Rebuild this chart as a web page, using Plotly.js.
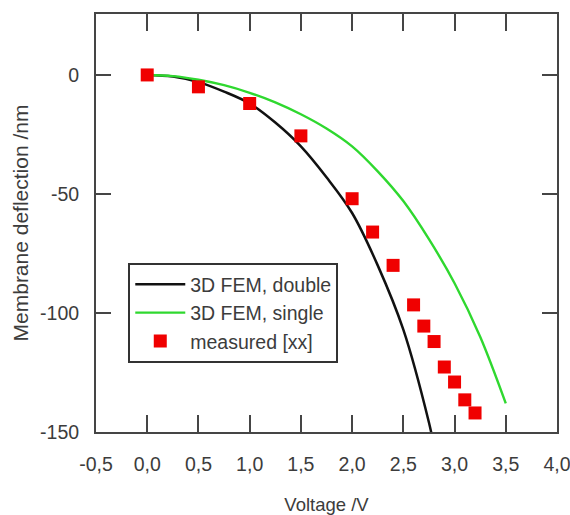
<!DOCTYPE html>
<html>
<head>
<meta charset="utf-8">
<script src="https://cdn.plot.ly/plotly-3.0.1.min.js"></script>
<style>html,body{margin:0;padding:0;background:#fff;}#chart{width:570px;height:515px;}</style>
</head>
<body>
<div id="chart"></div>
<script>
// Series
const doubleV = [0, 0.25, 0.5, 0.75, 1.0, 1.25, 1.5, 1.75, 2.0, 2.25, 2.5, 2.75, 2.8];
const doubleD = [0, -0.7, -3, -7, -12, -20, -30, -43, -58, -80, -107, -146, -156];

const singleV = [0, 0.25, 0.5, 0.75, 1.0, 1.25, 1.5, 1.75, 2.0, 2.25, 2.5, 2.75, 3.0, 3.25, 3.5];
const singleD = [0, -0.5, -2, -4.3, -7.5, -11.5, -16.5, -22.5, -30, -40.5, -53, -69, -87.5, -110, -138];

const measV = [0, 0.5, 1.0, 1.5, 2.0, 2.2, 2.4, 2.6, 2.7, 2.8, 2.9, 3.0, 3.1, 3.2];
const measD = [0, -5, -12, -25.6, -52, -66, -80, -96.6, -105.5, -112, -122.7, -129, -136.5, -142];

const xTickVals = [-0.5, 0, 0.5, 1.0, 1.5, 2.0, 2.5, 3.0, 3.5, 4.0];
const xTickText = ['-0,5', '0,0', '0,5', '1,0', '1,5', '2,0', '2,5', '3,0', '3,5', '4,0'];
const yTickVals = [0, -50, -100, -150];
const yTickText = ['0', '-50', '-100', '-150'];

const FONT = 'Liberation Sans, Arial, sans-serif';
const TXT = '#3c3c3c';

const traces = [
  {x: doubleV, y: doubleD, mode: 'lines', name: '3D FEM, double', legendgroup: 'a',
   line: {color: '#111111', width: 2.5, shape: 'spline'}},
  {x: singleV, y: singleD, mode: 'lines', name: '3D FEM, single', legendgroup: 'b',
   line: {color: '#2fd82f', width: 2.4, shape: 'spline'}},
  {x: measV, y: measD, mode: 'markers', name: 'measured [xx]', legendgroup: 'c',
   marker: {symbol: 'square', size: 13, color: '#f00000'}}
];

const axisCommon = {
  showline: true, linecolor: '#454545', linewidth: 2, mirror: 'ticks',
  ticks: 'inside', tickcolor: '#454545', tickwidth: 2,
  showgrid: false, zeroline: false, tickmode: 'array',
  ticklabeloverflow: 'allow',
  tickfont: {family: FONT, size: 19.5, color: TXT}
};

const layout = {
  width: 570, height: 515,
  margin: {l: 96, r: 13, t: 14, b: 83},
  paper_bgcolor: '#ffffff', plot_bgcolor: '#ffffff',
  showlegend: true,
  legend: {
    x: 0.07, y: 0.404, xanchor: 'left', yanchor: 'top',
    bgcolor: '#ffffff', bordercolor: '#333333', borderwidth: 2,
    tracegroupgap: 3, traceorder: 'normal', itemwidth: 50,
    font: {family: FONT, size: 19.5, color: TXT}
  },
  xaxis: Object.assign({}, axisCommon, {
    range: [-0.5, 4.0], tickvals: xTickVals, ticktext: xTickText, ticklen: 17,
    ticklabelstandoff: 14,
    title: {text: 'Voltage /V', standoff: 25, font: {family: FONT, size: 18.5, color: TXT}}
  }),
  yaxis: Object.assign({}, axisCommon, {
    range: [-150, 25.6], tickvals: yTickVals, ticktext: yTickText, ticklen: 15,
    ticklabelstandoff: 11,
    title: {text: 'Membrane deflection /nm', standoff: 6, font: {family: FONT, size: 21, color: TXT}}
  })
};

Plotly.newPlot('chart', traces, layout, {displayModeBar: false, staticPlot: true});
</script>
</body>
</html>
